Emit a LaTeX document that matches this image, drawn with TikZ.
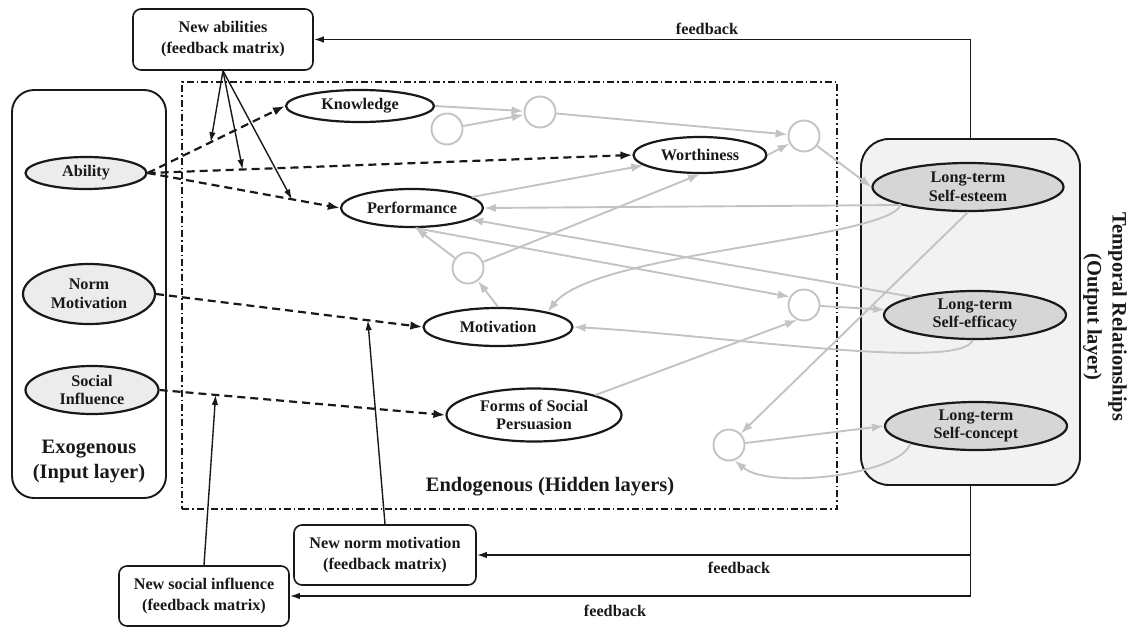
\documentclass[tikz,border=0pt]{standalone}
\usepackage{fontspec}
\setmainfont{Liberation Serif}
\usetikzlibrary{arrows.meta,shapes.geometric,calc}
\definecolor{lg}{RGB}{195,195,195}
\definecolor{inf}{RGB}{236,236,236}
\definecolor{outf}{RGB}{214,214,214}
\definecolor{boxf}{RGB}{242,242,242}
\definecolor{ink}{RGB}{25,25,25}
\begin{document}
\begin{tikzpicture}[x=1pt,y=-1pt,
  txt/.style={font=\bfseries\fontsize{16.2}{18.5}\selectfont, text=ink, align=center},
  bigtxt/.style={font=\bfseries\fontsize{20.5}{25}\selectfont, text=ink, align=center},
  ell/.style={ellipse, draw=ink, line width=2.2pt, inner sep=0pt},
  inell/.style={ell, fill=inf},
  hidell/.style={ell, fill=white},
  outell/.style={ell, fill=outf},
  fbbox/.style={draw=ink, line width=1.6pt, rounded corners=8pt, fill=white, inner sep=0pt, align=center, text=ink, font=\bfseries\fontsize{16.2}{21}\selectfont},
  circ/.style={circle, draw=lg, line width=1.9pt, minimum size=31pt, inner sep=0pt},
  garr/.style={draw=lg, line width=1.9pt, -{Latex[length=12pt,width=8.5pt]}},
  darr/.style={draw=ink, line width=2.2pt, dash pattern=on 8pt off 5pt, -{Latex[length=12pt,width=8.5pt]}},
  karr/.style={draw=ink, line width=1.4pt, -{Latex[length=10pt,width=6.5pt]}},
  fbline/.style={draw=ink, line width=1.6pt, -{Latex[length=10pt,width=6.5pt]}}
]
\useasboundingbox (0,0) rectangle (1131,627);

% containers
\node[draw=ink, line width=1.9pt, rounded corners=22pt, minimum width=154pt, minimum height=408pt, inner sep=0pt] (exo) at (89,294) {};
\node[draw=ink, line width=1.9pt, rounded corners=28pt, fill=boxf, minimum width=219pt, minimum height=346pt, inner sep=0pt] (outbox) at (970.5,312) {};
\node[draw=ink, line width=1.4pt, dash pattern=on 7pt off 3pt on 1.5pt off 3pt, minimum width=655pt, minimum height=427pt, inner sep=0pt] (hid) at (509.5,295.5) {};

% layer labels
\node[bigtxt] (exolab) at (89,461) {Exogenous\\(Input layer)};
\node[bigtxt] (hidlab) at (550,487) {Endogenous (Hidden layers)};
\node[bigtxt, rotate=-90] (outlab) at (1105,317) {Temporal Relationships\\(Output layer)};

% feedback boxes
\node[fbbox, minimum width=180pt, minimum height=61pt] (newab) at (223,39.5) {New abilities\\(feedback matrix)};
\node[fbbox, minimum width=182pt, minimum height=60pt] (newnorm) at (385,555) {New norm motivation\\(feedback matrix)};
\node[fbbox, minimum width=170pt, minimum height=60pt] (newsoc) at (204,596) {New social influence\\(feedback matrix)};

% input ellipses
\node[inell, minimum width=121pt, minimum height=32pt, label={[txt]center:Ability}] (ability) at (86,173) {};
\node[inell, minimum width=132pt, minimum height=60pt, label={[txt]center:{Norm\\Motivation}}] (normm) at (89,294) {};
\node[inell, minimum width=133pt, minimum height=48pt, label={[txt]center:{Social\\Influence}}] (social) at (92,390) {};

% hidden ellipses
\node[hidell, minimum width=148pt, minimum height=32pt, label={[txt]center:Knowledge}] (know) at (360,106) {};
\node[hidell, minimum width=133pt, minimum height=36pt, label={[txt]center:Worthiness}] (worth) at (700,155) {};
\node[hidell, minimum width=142pt, minimum height=38pt, label={[txt]center:Performance}] (perf) at (412,208) {};
\node[hidell, minimum width=149pt, minimum height=38pt, label={[txt]center:Motivation}] (motiv) at (498,327) {};
\node[hidell, minimum width=175pt, minimum height=53pt, label={[txt]center:{Forms of Social\\Persuasion}}] (forms) at (534,415) {};

% hidden neurons
\node[circ] (c1) at (447,129) {};
\node[circ] (c2) at (540,112) {};
\node[circ] (c3) at (804,136) {};
\node[circ] (c4) at (468,268) {};
\node[circ] (c5) at (804,305) {};
\node[circ] (c6) at (729,445) {};

% output ellipses
\node[outell, minimum width=191pt, minimum height=48pt, label={[txt]center:{Long-term\\Self-esteem}}] (lse) at (968,187) {};
\node[outell, minimum width=182pt, minimum height=48pt, label={[txt]center:{Long-term\\Self-efficacy}}] (lsf) at (975,315) {};
\node[outell, minimum width=182pt, minimum height=48pt, label={[txt]center:{Long-term\\Self-concept}}] (lsc) at (976,426) {};

% gray connections
\draw[garr] (know.east) -- (c2);
\draw[garr] (c1) -- (c2);
\draw[garr] (c2) -- (c3);
\draw[garr] (worth.east) -- (c3);
\draw[garr] (c3) -- (lse.west);
\draw[garr] (perf) -- (worth);
\draw[garr] (c4) -- (worth.south);
\draw[garr] (motiv.north) -- (c4);
\draw[garr] (lse.195) -- (perf.east);
\draw[garr] (lse.195) .. controls (885,240) and (595,252) .. (motiv.17);
\draw[garr] (lsf.164) -- (perf.349);
\draw[garr] (c4) -- (perf.280);
\draw[garr] (perf.280) -- (c5.150);
\draw[garr] (c5) -- (lsf);
\draw[garr] (forms.18) -- (c5.245);
\draw[garr] (lsf.265) .. controls (960,372) and (720,335) .. (motiv.east);
\draw[garr] (lse.south) -- (c6);
\draw[garr] (c6) -- (lsc.west);
\draw[garr] (lsc.195) .. controls (900,475) and (770,490) .. (c6.290);

% dashed input connections
\draw[darr] (ability.east) -- (know.west);
\draw[darr] (ability.east) -- (worth.west);
\draw[darr] (ability.east) -- (perf.west);
\draw[darr] (normm.east) -- (motiv.west);
\draw[darr] (social.east) -- (forms.west);

% modulation points
\coordinate (mk) at ($(ability.east)!0.46!(know.west)$);
\coordinate (mw) at ($(ability.east)!0.196!(worth.west)$);
\coordinate (mp) at ($(ability.east)!0.75!(perf.west)$);
\coordinate (mn) at ($(normm.east)!0.795!(motiv.west)$);
\coordinate (ms) at ($(social.east)!0.196!(forms.west)$);

\draw[karr] (newab.south) -- (mk);
\draw[karr] (newab.south) -- (mw);
\draw[karr] (newab.south) -- (mp);
\draw[karr] (newnorm.north) -- (mn);
\draw[karr] (newsoc.north) -- (ms);

% feedback loops
\draw[fbline] (outbox.north) |- (newab.east);
\draw[fbline] (outbox.south) |- (newnorm.east);
\draw[fbline] (outbox.south) |- (newsoc.east);
\node[txt] (fb1) at (707,29) {feedback};
\node[txt] (fb2) at (739,568) {feedback};
\node[txt] (fb3) at (615,611) {feedback};
\end{tikzpicture}
\end{document}
